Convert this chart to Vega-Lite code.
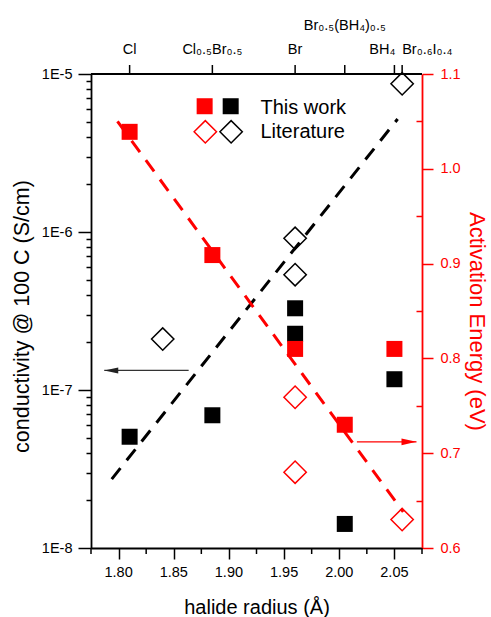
{
  "$schema": "https://vega.github.io/schema/vega-lite/v6.json",
  "width": 331,
  "height": 474,
  "autosize": "none",
  "padding": {"left": 91, "top": 74, "right": 69, "bottom": 69},
  "background": "white",
  "config": {
    "view": {"stroke": null},
    "font": "Liberation Sans",
    "axis": {
      "labelFont": "Liberation Sans",
      "titleFont": "Liberation Sans",
      "labelFontSize": 14.5,
      "titleFontSize": 20,
      "titleFontWeight": "normal",
      "domainColor": "black",
      "tickColor": "black",
      "labelColor": "black",
      "titleColor": "black",
      "domainWidth": 1.8,
      "tickWidth": 1.5,
      "grid": false,
      "labelOverlap": false
    }
  },
  "datasets": {
    "cond": [
      {"r": 1.81, "s": 5.06e-8, "src": "This work"},
      {"r": 1.885, "s": 6.92e-8, "src": "This work"},
      {"r": 1.96, "s": 3.29e-7, "src": "This work"},
      {"r": 1.96, "s": 2.27e-7, "src": "This work"},
      {"r": 2.005, "s": 1.42e-8, "src": "This work"},
      {"r": 2.05, "s": 1.17e-7, "src": "This work"},
      {"r": 1.84, "s": 2.1e-7, "src": "Literature"},
      {"r": 1.96, "s": 9.12e-7, "src": "Literature"},
      {"r": 1.96, "s": 5.37e-7, "src": "Literature"},
      {"r": 2.057, "s": 8.67e-6, "src": "Literature"}
    ],
    "ea": [
      {"r": 1.81, "e": 1.039, "src": "This work"},
      {"r": 1.885, "e": 0.909, "src": "This work"},
      {"r": 1.96, "e": 0.81, "src": "This work"},
      {"r": 2.005, "e": 0.73, "src": "This work"},
      {"r": 2.05, "e": 0.81, "src": "This work"},
      {"r": 1.96, "e": 0.759, "src": "Literature"},
      {"r": 1.96, "e": 0.68, "src": "Literature"},
      {"r": 2.057, "e": 0.63, "src": "Literature"}
    ],
    "condFit": [
      {"r": 1.7938, "s": 2.73e-8},
      {"r": 2.0529, "s": 5.19e-6}
    ],
    "eaFit": [
      {"r": 1.799, "e": 1.05},
      {"r": 2.058, "e": 0.638}
    ],
    "condArrow": [
      {"r": 1.8635, "s": 1.33e-7, "part": "tail"},
      {"r": 1.787, "s": 1.33e-7, "part": "tip"}
    ],
    "eaArrow": [
      {"r": 2.016, "e": 0.712, "part": "tail"},
      {"r": 2.070, "e": 0.712, "part": "tip"}
    ],
    "bottomLabels": [
      {"r": 1.8, "label": "1.80"},
      {"r": 1.85, "label": "1.85"},
      {"r": 1.9, "label": "1.90"},
      {"r": 1.95, "label": "1.95"},
      {"r": 2.0, "label": "2.00"},
      {"r": 2.05, "label": "2.05"}
    ],
    "minorTicks": [
      {"r": 1.775}, {"r": 1.825}, {"r": 1.875}, {"r": 1.925}, {"r": 1.975}, {"r": 2.025}, {"r": 2.075}
    ],
    "topTicks": [
      {"r": 1.81, "label": "Cl"},
      {"r": 1.885, "label": "Cl₀.₅Br₀.₅"},
      {"r": 1.96, "label": "Br"},
      {"r": 2.005, "label": "Br₀.₅(BH₄)₀.₅"},
      {"r": 2.05, "label": "BH₄"},
      {"r": 2.057, "label": "Br₀.₆I₀.₄"}
    ],
    "legendSym": [
      {"r": 1.878, "e": 1.066, "q": "Activation energy", "src": "This work"},
      {"r": 1.9016, "e": 1.066, "q": "Conductivity", "src": "This work"},
      {"r": 1.8786, "e": 1.039, "q": "Activation energy", "src": "Literature"},
      {"r": 1.902, "e": 1.039, "q": "Conductivity", "src": "Literature"}
    ],
    "legendText": [
      {"r": 1.9286, "e": 1.0645, "label": "This work"},
      {"r": 1.9286, "e": 1.039, "label": "Literature"}
    ]
  },
  "layer": [
    {
      "layer": [
        {
          "data": {"name": "condFit"},
          "mark": {"type": "line", "color": "black", "strokeWidth": 3, "strokeDash": [14, 10], "strokeCap": "butt"},
          "encoding": {
            "x": {
              "field": "r", "type": "quantitative",
              "scale": {"domain": [1.775, 2.075], "nice": false, "zero": false},
              "axis": {
                "orient": "bottom",
                "title": "halide radius (Å)",
                "values": [1.8, 1.85, 1.9, 1.95, 2.0, 2.05],
                "labels": false,
                "tickSize": 11,
                "titlePadding": 38
              }
            },
            "y": {
              "field": "s", "type": "quantitative",
              "scale": {"type": "log", "domain": [1e-8, 1e-5], "nice": false},
              "axis": {
                "orient": "left",
                "title": "conductivity @ 100 C (S/cm)",
                "titleFontSize": 21.5,
                "titleY": 242,
                "values": [1e-8, 2e-8, 3e-8, 4e-8, 5e-8, 6e-8, 7e-8, 8e-8, 9e-8, 1e-7, 2e-7, 3e-7, 4e-7, 5e-7, 6e-7, 7e-7, 8e-7, 9e-7, 1e-6, 2e-6, 3e-6, 4e-6, 5e-6, 6e-6, 7e-6, 8e-6, 9e-6, 1e-5],
                "labelExpr": "datum.value == 1e-5 ? '1E-5' : datum.value == 1e-6 ? '1E-6' : datum.value == 1e-7 ? '1E-7' : datum.value == 1e-8 ? '1E-8' : ''",
                "tickSize": {"condition": {"test": "indexof([1e-8, 1e-7, 1e-6, 1e-5], datum.value) >= 0", "value": 13}, "value": 5},
                "labelPadding": 6,
                "titlePadding": 8
              }
            }
          }
        },
        {
          "data": {"name": "minorTicks"},
          "mark": {"type": "rule", "color": "black", "strokeWidth": 1.5},
          "encoding": {
            "x": {"field": "r", "type": "quantitative"},
            "y": {"datum": 1e-8, "type": "quantitative"},
            "y2": {"datum": 9.165e-9}
          }
        },
        {
          "data": {"name": "bottomLabels"},
          "mark": {"type": "text", "align": "center", "baseline": "top", "dy": 18, "fontSize": 14.5, "font": "Liberation Sans", "color": "black"},
          "encoding": {
            "x": {"field": "r", "type": "quantitative"},
            "y": {"datum": 1e-8, "type": "quantitative"},
            "text": {"field": "label"}
          }
        },
        {
          "data": {"name": "cond"},
          "transform": [{"filter": "datum.src == 'This work'"}],
          "mark": {"type": "point", "shape": "square", "filled": true, "color": "black", "size": 256, "opacity": 1},
          "encoding": {
            "x": {"field": "r", "type": "quantitative"},
            "y": {"field": "s", "type": "quantitative"}
          }
        },
        {
          "data": {"name": "cond"},
          "transform": [{"filter": "datum.src == 'Literature'"}],
          "mark": {"type": "point", "shape": "diamond", "filled": false, "color": "black", "size": 500, "strokeWidth": 1.5, "opacity": 1},
          "encoding": {
            "x": {"field": "r", "type": "quantitative"},
            "y": {"field": "s", "type": "quantitative"}
          }
        },
        {
          "data": {"name": "condArrow"},
          "mark": {"type": "line", "color": "#333333", "strokeWidth": 1.2},
          "encoding": {
            "x": {"field": "r", "type": "quantitative"},
            "y": {"field": "s", "type": "quantitative"}
          }
        },
        {
          "data": {"name": "condArrow"},
          "transform": [{"filter": "datum.part == 'tip'"}],
          "mark": {"type": "point", "shape": "M0,0L2,-0.43L2,0.43Z", "filled": true, "color": "#222222", "size": 196, "opacity": 1},
          "encoding": {
            "x": {"field": "r", "type": "quantitative"},
            "y": {"field": "s", "type": "quantitative"}
          }
        }
      ]
    },
    {
      "layer": [
        {
          "data": {"name": "eaFit"},
          "mark": {"type": "line", "color": "#ff0000", "strokeWidth": 3, "strokeDash": [14, 10], "strokeCap": "butt"},
          "encoding": {
            "x": {"field": "r", "type": "quantitative"},
            "y": {
              "field": "e", "type": "quantitative",
              "scale": {"domain": [0.6, 1.1], "nice": false, "zero": false},
              "axis": {
                "orient": "right",
                "title": "Activation Energy (eV)",
                "titleFontSize": 22,
                "titleY": 247,
                "values": [0.6, 0.65, 0.7, 0.75, 0.8, 0.85, 0.9, 0.95, 1.0, 1.05, 1.1],
                "labelExpr": "abs(datum.value*10 - round(datum.value*10)) < 0.001 ? format(datum.value, '.1f') : ''",
                "tickSize": {"condition": {"test": "abs(datum.value*10 - round(datum.value*10)) < 0.001", "value": 11}, "value": -6},
                "domainColor": "#ff0000",
                "tickColor": "#ff0000",
                "labelColor": "#ff0000",
                "titleColor": "#ff0000",
                "labelPadding": 7,
                "titlePadding": 4
              }
            }
          }
        },
        {
          "data": {"name": "topTicks"},
          "mark": {"type": "rule", "color": "black", "strokeWidth": 1.8},
          "encoding": {
            "x": {"datum": 1.775, "type": "quantitative"},
            "x2": {"datum": 2.075},
            "y": {"datum": 1.1, "type": "quantitative"}
          }
        },
        {
          "data": {"name": "topTicks"},
          "mark": {"type": "rule", "color": "black", "strokeWidth": 1.5},
          "encoding": {
            "x": {"field": "r", "type": "quantitative"},
            "y": {"datum": 1.1, "type": "quantitative"},
            "y2": {"datum": 1.1095}
          }
        },
        {
          "data": {"name": "topTicks"},
          "transform": [{"filter": "datum.r < 2"}],
          "mark": {"type": "text", "align": "center", "baseline": "alphabetic", "dy": -20, "fontSize": 14.5, "font": "Liberation Sans", "color": "black"},
          "encoding": {
            "x": {"field": "r", "type": "quantitative"},
            "y": {"datum": 1.1, "type": "quantitative"},
            "text": {"field": "label"}
          }
        },
        {
          "data": {"name": "topTicks"},
          "transform": [{"filter": "datum.r == 2.005"}],
          "mark": {"type": "text", "align": "center", "baseline": "alphabetic", "dy": -44, "fontSize": 14.5, "font": "Liberation Sans", "color": "black"},
          "encoding": {
            "x": {"field": "r", "type": "quantitative"},
            "y": {"datum": 1.1, "type": "quantitative"},
            "text": {"field": "label"}
          }
        },
        {
          "data": {"name": "topTicks"},
          "transform": [{"filter": "datum.r == 2.05"}],
          "mark": {"type": "text", "align": "right", "baseline": "alphabetic", "dy": -20, "dx": 1, "fontSize": 14.5, "font": "Liberation Sans", "color": "black"},
          "encoding": {
            "x": {"field": "r", "type": "quantitative"},
            "y": {"datum": 1.1, "type": "quantitative"},
            "text": {"field": "label"}
          }
        },
        {
          "data": {"name": "topTicks"},
          "transform": [{"filter": "datum.r == 2.057"}],
          "mark": {"type": "text", "align": "left", "baseline": "alphabetic", "dy": -20, "fontSize": 14.5, "font": "Liberation Sans", "color": "black"},
          "encoding": {
            "x": {"field": "r", "type": "quantitative"},
            "y": {"datum": 1.1, "type": "quantitative"},
            "text": {"field": "label"}
          }
        },
        {
          "data": {"name": "ea"},
          "transform": [{"filter": "datum.src == 'This work'"}],
          "mark": {"type": "point", "shape": "square", "filled": true, "color": "#ff0000", "size": 256, "opacity": 1},
          "encoding": {
            "x": {"field": "r", "type": "quantitative"},
            "y": {"field": "e", "type": "quantitative"}
          }
        },
        {
          "data": {"name": "ea"},
          "transform": [{"filter": "datum.src == 'Literature'"}],
          "mark": {"type": "point", "shape": "diamond", "filled": false, "color": "#ff0000", "size": 500, "strokeWidth": 1.5, "opacity": 1},
          "encoding": {
            "x": {"field": "r", "type": "quantitative"},
            "y": {"field": "e", "type": "quantitative"}
          }
        },
        {
          "data": {"name": "eaArrow"},
          "mark": {"type": "line", "color": "#ff0000", "strokeWidth": 1.2},
          "encoding": {
            "x": {"field": "r", "type": "quantitative"},
            "y": {"field": "e", "type": "quantitative"}
          }
        },
        {
          "data": {"name": "eaArrow"},
          "transform": [{"filter": "datum.part == 'tip'"}],
          "mark": {"type": "point", "shape": "M0,0L-2,-0.45L-2,0.45Z", "filled": true, "color": "#ff0000", "size": 225, "opacity": 1},
          "encoding": {
            "x": {"field": "r", "type": "quantitative"},
            "y": {"field": "e", "type": "quantitative"}
          }
        },
        {
          "data": {"name": "legendSym"},
          "transform": [{"filter": "datum.src == 'This work'"}],
          "mark": {"type": "point", "shape": "square", "filled": true, "size": 256, "opacity": 1},
          "encoding": {
            "x": {"field": "r", "type": "quantitative"},
            "y": {"field": "e", "type": "quantitative"},
            "color": {"field": "q", "type": "nominal", "scale": {"domain": ["Activation energy", "Conductivity"], "range": ["#ff0000", "#000000"]}, "legend": null}
          }
        },
        {
          "data": {"name": "legendSym"},
          "transform": [{"filter": "datum.src == 'Literature'"}],
          "mark": {"type": "point", "shape": "diamond", "filled": false, "size": 500, "strokeWidth": 1.5, "opacity": 1},
          "encoding": {
            "x": {"field": "r", "type": "quantitative"},
            "y": {"field": "e", "type": "quantitative"},
            "color": {"field": "q", "type": "nominal", "legend": null}
          }
        },
        {
          "data": {"name": "legendText"},
          "mark": {"type": "text", "align": "left", "baseline": "middle", "fontSize": 20, "font": "Liberation Sans", "color": "black"},
          "encoding": {
            "x": {"field": "r", "type": "quantitative"},
            "y": {"field": "e", "type": "quantitative"},
            "text": {"field": "label"}
          }
        }
      ]
    }
  ],
  "resolve": {"scale": {"y": "independent"}}
}
